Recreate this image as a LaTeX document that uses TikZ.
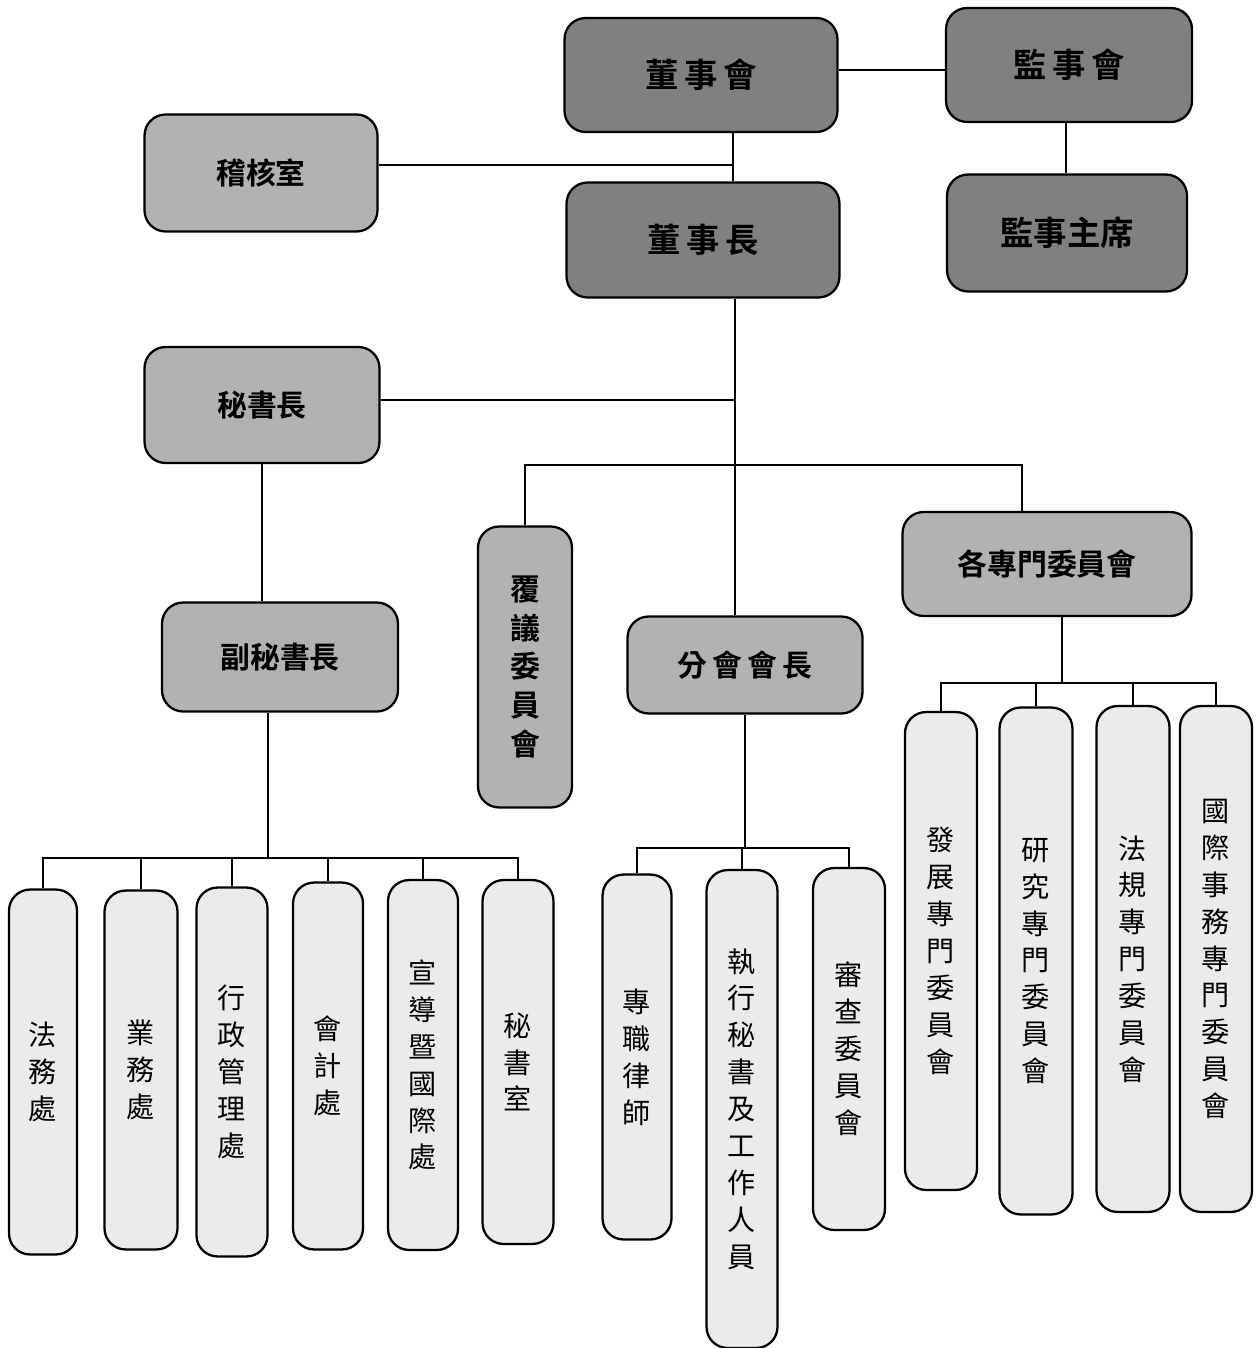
\documentclass[tikz,border=0pt]{standalone}
\usepackage{fontspec}
\newfontfamily\cjk{Noto Sans CJK TC}[BoldFont={Noto Sans CJK TC Bold}]
\usetikzlibrary{positioning}
\tikzset{orgbox/.style={draw, line width=1.3pt, rounded corners=12pt, inner sep=0pt, align=center}}
\tikzset{topbox/.style={orgbox, fill=black!50, font=\cjk\bfseries\fontsize{19}{22}\selectfont}}
\tikzset{midbox/.style={orgbox, fill=black!30, font=\cjk\bfseries\fontsize{17}{22}\selectfont}}
\tikzset{lowbox/.style={orgbox, fill=black!8, font=\cjk\fontsize{16}{21}\selectfont}}
\tikzset{link/.style={line width=1.1pt}}

\begin{document}
\begin{tikzpicture}[x=0.02cm, y=-0.02cm]
\useasboundingbox (0,0) rectangle (1260,1348);

% upper level
\node (board) at (701,75)[topbox, minimum width=5.46cm, minimum height=2.28cm]{董\,事\,會};
\node (super) at (1069,65)[topbox, minimum width=4.92cm, minimum height=2.28cm]{監\,事\,會};
\node (chair) at (703,240)[topbox, minimum width=5.46cm, minimum height=2.3cm]{董\,事\,長};
\node (superchair) at (1067,233)[topbox, minimum width=4.8cm, minimum height=2.34cm]{監事主席};
\node (audit) at (261,173)[midbox, minimum width=4.66cm, minimum height=2.34cm]{稽核室};
\node (secgen) at (262,405)[midbox, minimum width=4.7cm, minimum height=2.32cm]{秘書長};

% middle level
\node (vicesec) at (280,657)[midbox, minimum width=4.72cm, minimum height=2.18cm]{副秘書長};
\node (review) at (525,667)[midbox, minimum width=1.88cm, minimum height=5.62cm]{覆\\議\\委\\員\\會};
\node (branch) at (745,665)[midbox, minimum width=4.7cm, minimum height=1.94cm]{分\,會\,會\,長};
\node (comms) at (1047,564)[midbox, minimum width=5.78cm, minimum height=2.08cm]{各專門委員會};

% lower level
\node (law) at (43,1072)[lowbox, minimum width=1.36cm, minimum height=7.3cm]{法\\務\\處};
\node (biz) at (141,1070)[lowbox, minimum width=1.46cm, minimum height=7.18cm]{業\\務\\處};
\node (admin) at (232,1072)[lowbox, minimum width=1.42cm, minimum height=7.38cm]{行\\政\\管\\理\\處};
\node (acct) at (328,1066)[lowbox, minimum width=1.4cm, minimum height=7.34cm]{會\\計\\處};
\node (promo) at (423,1065)[lowbox, minimum width=1.4cm, minimum height=7.4cm]{宣\\導\\暨\\國\\際\\處};
\node (office) at (518,1062)[lowbox, minimum width=1.42cm, minimum height=7.28cm]{秘\\書\\室};

\node (lawyer) at (637,1057)[lowbox, minimum width=1.38cm, minimum height=7.3cm]{專\\職\\律\\師};
\node (staff) at (742,1109)[lowbox, minimum width=1.42cm, minimum height=9.56cm]{執\\行\\秘\\書\\及\\工\\作\\人\\員};
\node (examine) at (849,1049)[lowbox, minimum width=1.44cm, minimum height=7.24cm]{審\\查\\委\\員\\會};

\node (develop) at (941,951)[lowbox, minimum width=1.44cm, minimum height=9.56cm]{發\\展\\專\\門\\委\\員\\會};
\node (research) at (1036,961)[lowbox, minimum width=1.46cm, minimum height=10.14cm]{研\\究\\專\\門\\委\\員\\會};
\node (rules) at (1133,959)[lowbox, minimum width=1.46cm, minimum height=10.12cm]{法\\規\\專\\門\\委\\員\\會};
\node (intl) at (1216,959)[lowbox, minimum width=1.44cm, minimum height=10.12cm]{國\\際\\事\\務\\專\\門\\委\\員\\會};

% joints
\coordinate (j1) at (733,165);
\coordinate (j2) at (735,400);
\coordinate (j3) at (735,465);
\coordinate (j4) at (268,858);
\coordinate (j5) at (745,848);
\coordinate (j6) at (1062,683);

\draw[link] (board.east |- 0,70) -- (super.west |- 0,70);
\draw[link] (super.south -| 1066,0) -- (superchair.north -| 1066,0);
\draw[link] (board.south -| j1) -- (chair.north -| j1);
\draw[link] (audit.east |- j1) -- (j1);
\draw[link] (chair.south -| j2) -- (branch.north -| j2);
\draw[link] (secgen.east |- j2) -- (j2);
\draw[link] (review.north) |- (j3) -| ([xshift=-0.5cm]comms.north);
\draw[link] (secgen.south) -- (secgen.south |- vicesec.north);

\draw[link] (vicesec.south -| j4) -- (j4);
\foreach \n in {law,biz,admin,acct,promo,office}
  \draw[link] (j4) -| (\n.north);
\draw[link] (branch.south) -- (j5);
\foreach \n in {lawyer,staff,examine}
  \draw[link] (j5) -| (\n.north);
\draw[link] (comms.south -| j6) -- (j6);
\foreach \n in {develop,research,rules,intl}
  \draw[link] (j6) -| (\n.north);
\end{tikzpicture}
\end{document}
